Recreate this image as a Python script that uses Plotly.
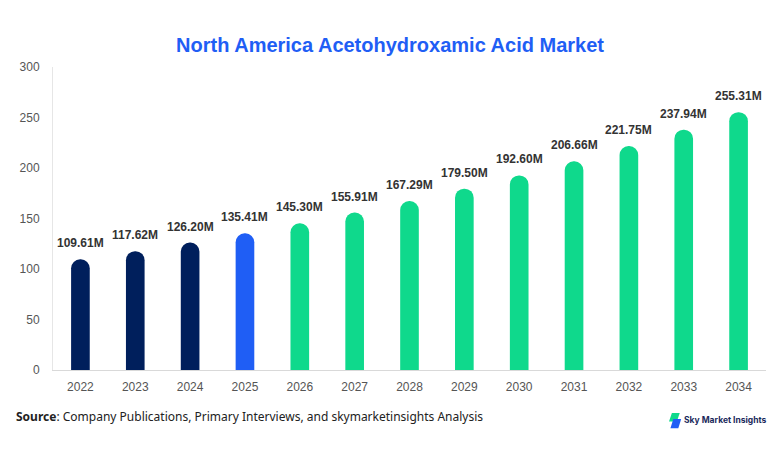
import plotly.graph_objects as go

# chart data
years = ["2022", "2023", "2024", "2025", "2026", "2027", "2028",
         "2029", "2030", "2031", "2032", "2033", "2034"]
market_size = [109.61, 117.62, 126.20, 135.41, 145.30, 155.91, 167.29,
               179.50, 192.60, 206.66, 221.75, 237.94, 255.31]
y_ticks = [0, 50, 100, 150, 200, 250, 300]

NAVY = "#001f5c"
BLUE = "#1f5ef5"
GREEN = "#0fd98c"

# history is navy, base year blue, forecast green
bar_colors = [NAVY if int(y) < 2025 else BLUE if int(y) == 2025 else GREEN for y in years]
labels = [f"{v:.2f}M" for v in market_size]

fig = go.Figure()
fig.add_trace(
    go.Bar(
        x=years,
        y=market_size,
        width=0.34,
        marker=dict(color=bar_colors, cornerradius=10, line=dict(width=0)),
        hoverinfo="x+y",
        showlegend=False,
    )
)

# value labels sitting a little above each bar (x = category index)
for i, (val, lab) in enumerate(zip(market_size, labels)):
    fig.add_annotation(
        x=i, y=val, text=f"<b>{lab}</b>", showarrow=False,
        xanchor="center", yanchor="bottom", yshift=7,
        font=dict(family="Liberation Sans, Arial", size=12, color="#333333"),
    )

fig.update_layout(
    width=774,
    height=446,
    margin=dict(l=42, r=16, t=59, b=84),
    plot_bgcolor="#ffffff",
    paper_bgcolor="#ffffff",
    title=dict(
        text="<b>North America Acetohydroxamic Acid Market</b>",
        x=382 / 774,
        xanchor="center",
        y=1 - 37 / 446,
        yanchor="middle",
        font=dict(family="Liberation Sans, Arial", size=20, color="#1f5ef5"),
    ),
    xaxis=dict(
        type="category",
        range=[-0.5, len(years) - 0.5],
        showline=True,
        linecolor="#d9d9d9",
        linewidth=1,
        showgrid=False,
        ticks="",
        ticklabelstandoff=6,
        tickfont=dict(family="Liberation Sans, Arial", size=12, color="#555555"),
    ),
    yaxis=dict(
        range=[0, 300],
        tickvals=y_ticks,
        showline=True,
        linecolor="#e6e6e6",
        linewidth=1,
        showgrid=False,
        zeroline=False,
        ticks="",
        ticklabelstandoff=10,
        tickfont=dict(family="Liberation Sans, Arial", size=12, color="#555555"),
    ),
)

# source note
fig.add_annotation(
    text="<b>Source</b>: Company Publications, Primary Interviews, and skymarketinsights Analysis",
    xref="paper", yref="paper", x=-39 / 716, y=-46 / 303,
    xanchor="left", yanchor="middle", showarrow=False,
    font=dict(family="Noto Sans", size=12, color="#222222"),
)

# logo mark + name
fig.add_shape(type="path", xref="paper", yref="paper",
              path="M 0.868,-0.142 L 0.879,-0.142 L 0.875,-0.170 L 0.864,-0.170 Z",
              fillcolor=GREEN, line=dict(width=0))
fig.add_shape(type="path", xref="paper", yref="paper",
              path="M 0.870,-0.162 L 0.881,-0.162 L 0.877,-0.192 L 0.866,-0.192 Z",
              fillcolor=BLUE, line=dict(width=0))
fig.add_annotation(
    text="<b>Sky Market Insights</b>",
    xref="paper", yref="paper", x=0.882, y=-0.165,
    xanchor="left", yanchor="middle", showarrow=False,
    font=dict(family="Inter", size=8.5, color="#1b2a5c"),
)

fig.write_html("out.html")
